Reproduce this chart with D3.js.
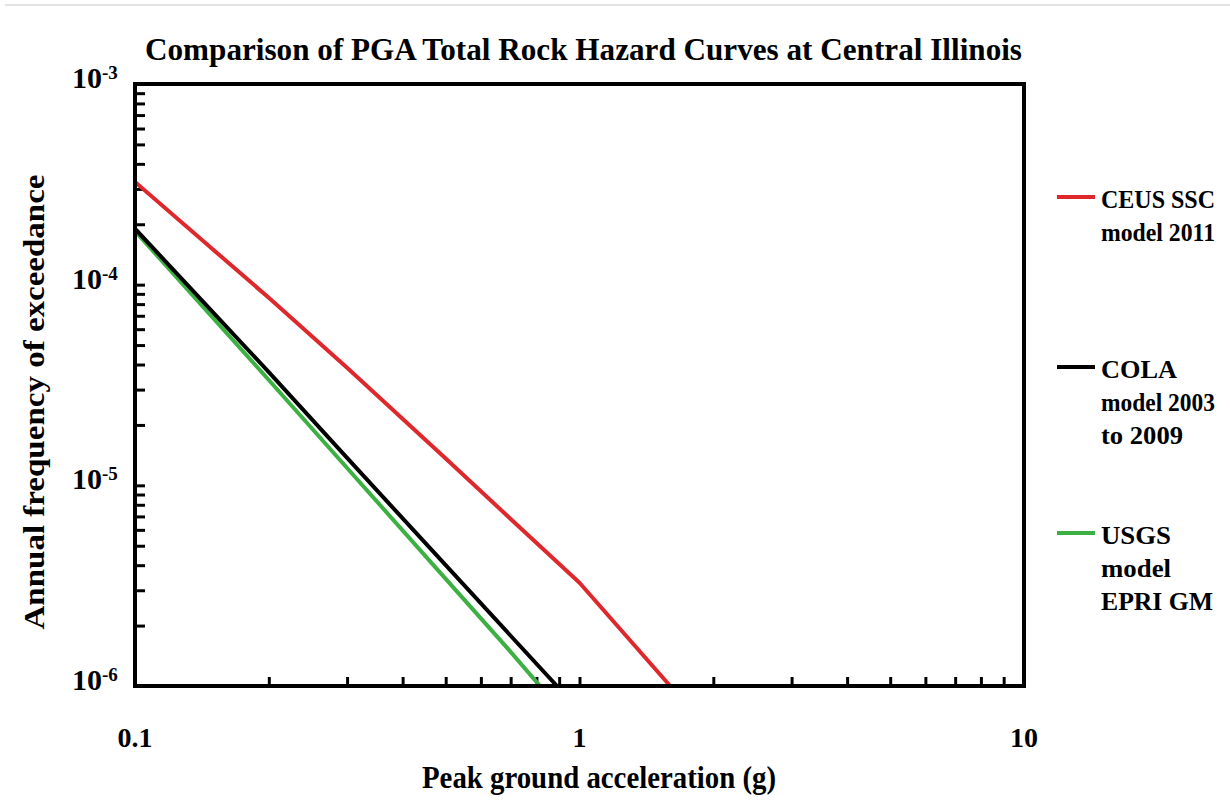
<!DOCTYPE html>
<html>
<head>
<meta charset="utf-8">
<script src="https://cdn.jsdelivr.net/npm/d3@7"></script>
<style>
  html, body { margin: 0; padding: 0; background: #fff; }
  svg { display: block; }
  text { font-family: "Liberation Serif", "Times New Roman", serif; font-weight: bold; fill: #000; }
</style>
</head>
<body>
<svg id="chart" width="1230" height="803"></svg>
<script>
// Hazard curves: annual frequency of exceedance vs. peak ground acceleration (g)
const ceusPga = [0.1, 0.2, 0.3, 0.5, 0.7, 1.0, 1.6];
const ceusAfe = [3.25e-4, 8.6e-5, 3.85e-5, 1.36e-5, 6.8e-6, 3.27e-6, 1.0e-6];

const colaPga = [0.1, 0.2, 0.3, 0.5, 0.7, 0.89];
const colaAfe = [1.9e-4, 3.67e-5, 1.37e-5, 4.0e-6, 1.78e-6, 1.0e-6];

const usgsPga = [0.1, 0.2, 0.3, 0.5, 0.7, 0.815];
const usgsAfe = [1.85e-4, 3.35e-5, 1.22e-5, 3.42e-6, 1.48e-6, 1.0e-6];

const seriesNames = [["CEUS SSC", "model 2011"], ["COLA", "model 2003", "to 2009"], ["USGS", "model", "EPRI GM"]];
const seriesColors = ["#de282c", "#000000", "#3cb043"];

const xTickLabels = ["0.1", "1", "10"];
const yTickExponents = ["-3", "-4", "-5", "-6"];

const titleText = "Comparison of PGA Total Rock Hazard Curves at Central Illinois";
const xTitle = "Peak ground acceleration (g)";
const yTitle = "Annual frequency of exceedance";

const svg = d3.select("#chart");
const plotL = 135, plotR = 1024, plotT = 84, plotB = 686;

const x = d3.scaleLog().domain([0.1, 10]).range([plotL, plotR]);
const y = d3.scaleLog().domain([1e-6, 1e-3]).range([plotB, plotT]);

// thin rule across the top of the page
svg.append("line").attr("x1", 5).attr("x2", 1230).attr("y1", 5).attr("y2", 5)
  .attr("stroke", "#d8d8d8").attr("stroke-width", 1.5);

// title
svg.append("text").attr("x", 145).attr("y", 60)
  .attr("font-size", 32).attr("textLength", 877).attr("lengthAdjust", "spacingAndGlyphs")
  .text(titleText);

// minor/major tick values
const xTicks = [];
for (let d = 0.1; d < 10; d *= 10) for (let k = 1; k < 10; k++) xTicks.push(+(d * k).toPrecision(3));
const yTicks = [];
for (let d = 1e-6; d < 1e-3; d *= 10) for (let k = 1; k < 10; k++) yTicks.push(+(d * k).toPrecision(3));

const gx = svg.append("g").attr("transform", `translate(0,${plotB})`)
  .call(d3.axisBottom(x).tickValues(xTicks.filter(v => v > 0.1)).tickSize(-9).tickFormat(""));
gx.select(".domain").remove();
gx.selectAll(".tick line").attr("stroke", "#000").attr("stroke-width", 3);

const gy = svg.append("g").attr("transform", `translate(${plotL},0)`)
  .call(d3.axisLeft(y).tickValues(yTicks.filter(v => v > 1e-6)).tickSize(-10).tickFormat(""));
gy.select(".domain").remove();
gy.selectAll(".tick line").attr("stroke", "#000").attr("stroke-width", 3);

// x tick labels at decades
const xDecades = [0.1, 1, 10];
svg.selectAll(".xlab").data(xDecades).enter().append("text")
  .attr("x", d => x(d)).attr("y", 747)
  .attr("text-anchor", "middle").attr("font-size", 28)
  .text((d, i) => xTickLabels[i]);

// y tick labels with superscript exponents
const yDecades = [1e-3, 1e-4, 1e-5, 1e-6];
const ylab = svg.selectAll(".ylab").data(yDecades).enter().append("text")
  .attr("x", 72).attr("y", d => y(d) + 4).attr("font-size", 30);
ylab.append("tspan").text("10");
ylab.append("tspan").attr("dy", -9).attr("font-size", 19)
  .text((d, i) => yTickExponents[i]);

// curves
const line = d3.line().x(d => x(d[0])).y(d => y(d[1]));
const curves = [
  d3.zip(ceusPga, ceusAfe),
  d3.zip(colaPga, colaAfe),
  d3.zip(usgsPga, usgsAfe)
];
svg.append("clipPath").attr("id", "plotClip").append("rect")
  .attr("x", plotL).attr("y", plotT).attr("width", plotR - plotL).attr("height", plotB - plotT);
// draw order: CEUS, USGS, COLA on top
[0, 2, 1].forEach(i => {
  svg.append("path").datum(curves[i])
    .attr("clip-path", "url(#plotClip)")
    .attr("fill", "none").attr("stroke", seriesColors[i]).attr("stroke-width", 4)
    .attr("stroke-linejoin", "round")
    .attr("d", line);
});

// plot frame
svg.append("rect").attr("x", plotL).attr("y", plotT)
  .attr("width", plotR - plotL).attr("height", plotB - plotT)
  .attr("fill", "none").attr("stroke", "#000").attr("stroke-width", 4);

// axis titles
svg.append("text").attr("x", 599).attr("y", 788)
  .attr("text-anchor", "middle").attr("font-size", 31)
  .attr("textLength", 354).attr("lengthAdjust", "spacingAndGlyphs")
  .text(xTitle);

svg.append("text").attr("transform", "translate(44,402) rotate(-90)")
  .attr("text-anchor", "middle").attr("font-size", 30)
  .attr("textLength", 455).attr("lengthAdjust", "spacingAndGlyphs")
  .text(yTitle);

// legend
const legendY = [197, 367, 533];
const legendWidths = [[114, 114], [76, 114, 82], [70, 70, 112]];
const legend = svg.selectAll(".legend").data(seriesNames).enter().append("g")
  .attr("transform", (d, i) => `translate(0,${legendY[i]})`);
legend.append("line").attr("x1", 1057).attr("x2", 1095).attr("y1", 0).attr("y2", 0)
  .attr("stroke", (d, i) => seriesColors[i]).attr("stroke-width", 4);
legend.each(function(lines, i) {
  const g = d3.select(this);
  lines.forEach((t, j) => {
    g.append("text").attr("x", 1101).attr("y", 11 + j * 33)
      .attr("font-size", 25)
      .attr("textLength", legendWidths[i][j]).attr("lengthAdjust", "spacingAndGlyphs")
      .text(t);
  });
});
</script>
</body>
</html>
